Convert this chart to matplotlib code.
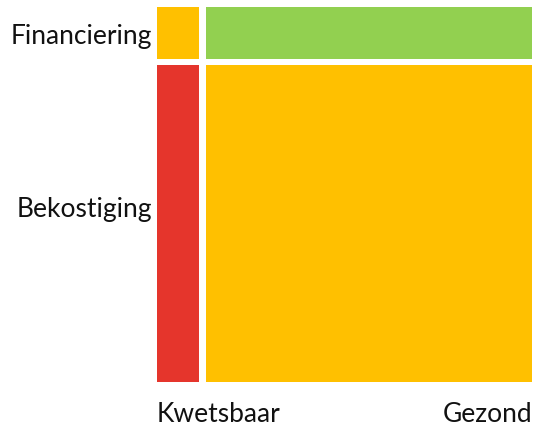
import matplotlib
matplotlib.use("Agg")
import matplotlib.pyplot as plt

# mosaic shares
col_labels = ["Kwetsbaar", "Gezond"]
col_share = [0.114, 0.886]
row_labels = ["Financiering", "Bekostiging"]
row_share = [0.141, 0.859]
# cell colours: rows x cols
cell_colors = [["#FFC000", "#92D050"],
               ["#E5352C", "#FFC000"]]

plt.rcParams["font.family"] = ["Lato", "DejaVu Sans"]

fig = plt.figure(figsize=(5.33, 4.27), dpi=100)
ax = fig.add_axes([157 / 533, 44 / 427, 375 / 533, 375 / 427])

xgap = 7 / 368
ygap = 6 / 369

# rows stacked top to bottom
y_top = 1 + ygap
for i, rs in enumerate(row_share):
    x_left = 0
    for j, cs in enumerate(col_share):
        ax.bar(x_left, rs, width=cs, bottom=y_top - rs, align="edge",
               color=cell_colors[i][j], linewidth=0)
        x_left += cs + xgap
    y_top -= rs + ygap

ax.set_xlim(0, 1 + xgap)
ax.set_ylim(0, 1 + ygap)
for s in ax.spines.values():
    s.set_visible(False)
ax.set_xticks([])
ax.set_yticks([])

label_kw = dict(fontsize=19, color="#111111")
ax.text(0, -0.085, col_labels[0], ha="left", va="center",
        transform=ax.transAxes, **label_kw)
ax.text(1, -0.085, col_labels[1], ha="right", va="center",
        transform=ax.transAxes, **label_kw)
ax.text(-0.013, 0.925, row_labels[0], ha="right", va="center",
        transform=ax.transAxes, **label_kw)
ax.text(-0.013, 0.462, row_labels[1], ha="right", va="center",
        transform=ax.transAxes, **label_kw)

fig.savefig("out.png", dpi=100)
